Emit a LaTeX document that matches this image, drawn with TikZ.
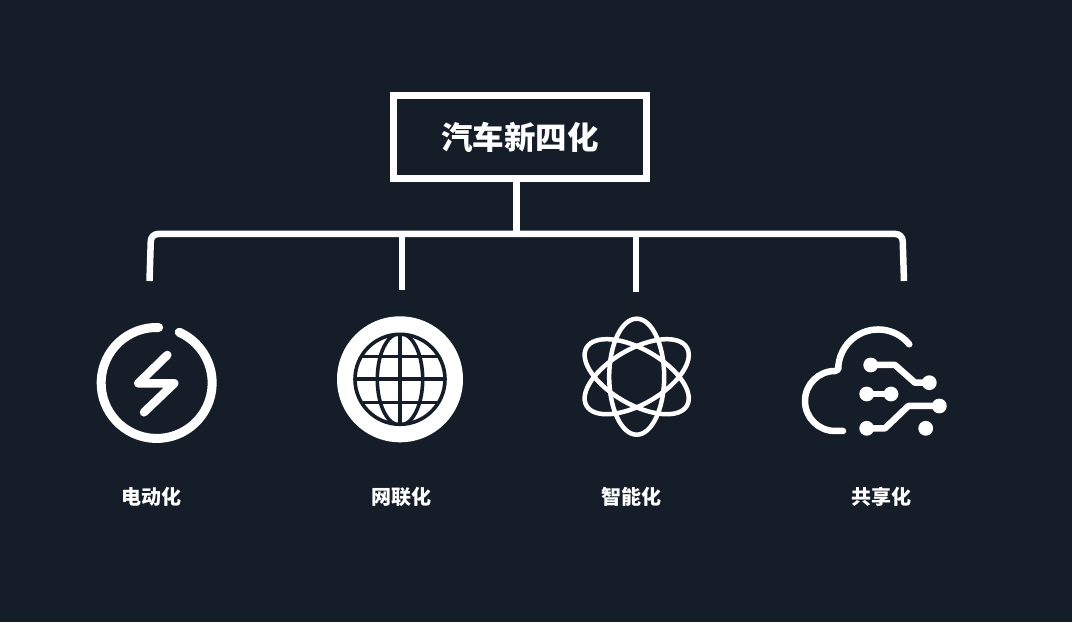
\documentclass[tikz,border=0pt]{standalone}
\usepackage{fontspec}
\setmainfont{Noto Sans CJK SC}
\definecolor{panel}{HTML}{151D29}
\tikzset{
  wire/.style={draw=white,line width=6.5pt},
  iconline/.style={draw=white,line cap=round,line join=round},
  rootbox/.style={draw=white,line width=7pt,minimum width=253pt,minimum height=83pt,
    inner sep=0pt,text=white,font=\fontsize{31.5}{31.5}\selectfont\bfseries},
  caption/.style={text=white,inner sep=0pt,font=\fontsize{20}{20}\selectfont\bfseries}
}
\begin{document}
\begin{tikzpicture}[x=1pt,y=1pt]
  \fill[panel] (0,0) rectangle (1072,622);
  \useasboundingbox (0,0) rectangle (1072,622);
  \node[rootbox] (root) at (520,485) {汽车新四化};
  \coordinate (hub) at (516.5,388);
  \coordinate (t1) at (149.5,341);
  \coordinate (t2) at (402,332);
  \coordinate (t3) at (636,330);
  \coordinate (t4) at (904,341);
  \draw[wire] (root.south -| hub) -- (hub);
  \draw[wire,rounded corners=7pt] (t1) -- (151,388) -- (902.5,388) -- (t4);
  \draw[wire] (t2 |- hub) -- (t2);
  \draw[wire] (t3 |- hub) -- (t3);
  % lightning ring
  \begin{scope}[shift={(156.7,239)}]
    \draw[iconline,line width=9pt] (1.9,55.5) arc(88 : 426 : 55.5);
    \draw[iconline,line width=8.5pt] (10.6,28) -- (-18.4,-0.3) -- (17.6,-0.3) -- (-12.7,-29.3);
  \end{scope}
  % globe
  \begin{scope}[shift={(400,242.7)}]
    \fill[white] (0,0) circle (63);
    \begin{scope}
      \clip (0,0) circle (45);
      \draw[panel,line width=3.6pt] (0,-45) -- (0,45);
      \draw[panel,line width=3.6pt] (0,0) ellipse (22.7 and 46);
      \foreach \yy in {-23.4,0,22.6}
        \draw[panel,line width=3.6pt] (-46,\yy) -- (46,\yy);
    \end{scope}
    \draw[panel,line width=3.6pt] (0,0) circle (45);
  \end{scope}
  % atom
  \begin{scope}[shift={(636.7,245.3)}]
    \foreach \ang in {0,60,-60}
      \draw[white,line width=4.5pt,rotate=\ang] (0,0) ellipse (27.5 and 58);
  \end{scope}
  % cloud
  \begin{scope}[shift={(870,240)}]
    \draw[iconline,line width=6.5pt] (39.3,37.7) arc(39 : 180 : 40) -- (-35,11)
        arc(90 : 270 : 30) -- (-27,-49);
    \draw[iconline,line width=6.5pt] (0.7,17) -- (25,17) -- (45,-0.7) -- (59.3,-0.7);
    \draw[iconline,line width=6.5pt] (-3.3,-12) -- (21,-12);
    \draw[iconline,line width=6.5pt] (-3.3,-46.3) -- (15,-46.3) -- (38.3,-24) -- (69.3,-24);
    \foreach \px/\py in {0.7/17,59.3/-0.7,-3.3/-12,21/-12,-3.3/-46.3,69.3/-24,55.7/-46.3}
      \fill[white] (\px,\py) circle (7.4);
  \end{scope}
  \node[caption] (lab1) at (151,125) {电动化};
  \node[caption] (lab2) at (401,125) {网联化};
  \node[caption] (lab3) at (631,125) {智能化};
  \node[caption] (lab4) at (881,125) {共享化};
\end{tikzpicture}
\end{document}
